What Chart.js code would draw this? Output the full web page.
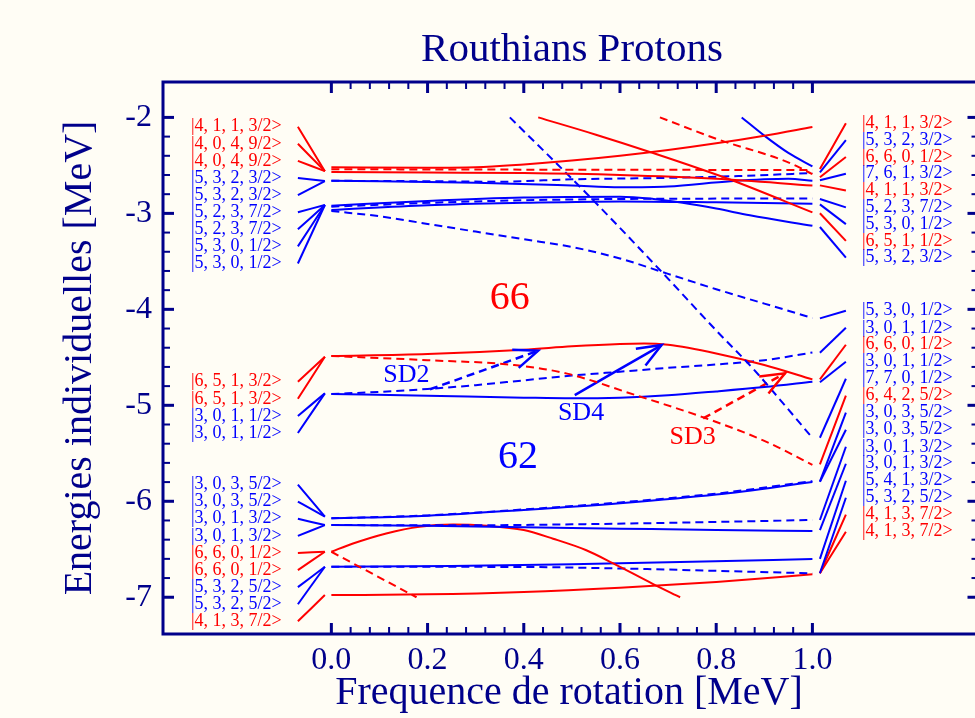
<!DOCTYPE html>
<html><head><meta charset="utf-8">
<script src="https://cdn.jsdelivr.net/npm/chart.js@4.4.1/dist/chart.umd.min.js"></script>
<style>html,body{margin:0;padding:0;background:#fffdf5;overflow:hidden}#wrap{width:975px;height:718px;position:relative}</style>
</head><body><div id="wrap"><canvas id="c" width="975" height="718"></canvas></div>
<script>
// ---------- data ----------
const xTicks = [0, 0.2, 0.4, 0.6, 0.8, 1.0];
const yTicks = [-7, -6, -5, -4, -3, -2];

// Routhian curves [omega, energy]
const redRise      = [[0,-2.52],[0.2,-2.525],[0.3,-2.52],[0.4,-2.49],[0.5,-2.45],[0.6,-2.40],[0.7,-2.34],[0.8,-2.27],[0.9,-2.19],[1.0,-2.10]];
const redFlat      = [[0,-2.57],[0.2,-2.575],[0.4,-2.58],[0.6,-2.60],[0.8,-2.64],[1.0,-2.71]];
const redFlatDash  = [[0,-2.54],[0.5,-2.545],[1.0,-2.548]];
const redTopDash   = [[0.683,-2.0],[0.807,-2.235],[0.946,-2.46],[1.0,-2.59]];
const redSteep     = [[0.43,-2.0],[0.55,-2.18],[0.662,-2.36],[0.83,-2.65],[1.0,-2.99]];
const blueSteep    = [[0.853,-2.0],[0.9,-2.19],[0.95,-2.37],[1.0,-2.51]];
const blueC        = [[0,-2.66],[0.3,-2.68],[0.5,-2.71],[0.6,-2.728],[0.7,-2.72],[0.83,-2.665],[0.95,-2.64],[1.0,-2.66]];
const blueCDash    = [[0,-2.66],[0.2,-2.665],[0.35,-2.67],[0.5,-2.645],[0.7,-2.63],[0.85,-2.61],[1.0,-2.58]];
const blueD1       = [[0,-2.92],[0.2,-2.87],[0.4,-2.835],[0.6,-2.826],[0.67,-2.85],[0.73,-2.89],[0.8,-2.95],[0.87,-3.02],[1.0,-3.13]];
const blueD2       = [[0,-2.965],[0.2,-2.915],[0.4,-2.89],[0.6,-2.875],[0.8,-2.885],[1.0,-2.90]];
const blueDDash    = [[0,-2.93],[0.3,-2.875],[0.6,-2.85],[1.0,-2.845]];
const blueFallDash = [[0,-2.975],[0.1,-3.03],[0.2,-3.11],[0.3,-3.19],[0.4,-3.27],[0.5,-3.35],[0.6,-3.47],[0.7,-3.63],[0.8,-3.79],[0.9,-3.94],[1.0,-4.09]];
const blueSteepDash= [[0.371,-2.0],[0.53,-2.79],[0.683,-3.59],[0.80,-4.22],[0.877,-4.62],[0.946,-5.02],[1.0,-5.34]];
const red66        = [[0,-4.486],[0.2,-4.465],[0.4,-4.42],[0.5,-4.385],[0.6,-4.36],[0.65,-4.355],[0.7,-4.37],[0.8,-4.46],[0.9,-4.58],[1.0,-4.73]];
const red66Dash    = [[0,-4.486],[0.2,-4.53],[0.38,-4.58],[0.49,-4.67],[0.63,-4.89],[0.77,-5.12],[0.9,-5.37],[1.0,-5.62]];
const blue62       = [[0,-4.882],[0.2,-4.90],[0.4,-4.92],[0.5,-4.927],[0.6,-4.92],[0.7,-4.895],[0.8,-4.855],[0.9,-4.81],[1.0,-4.754]];
const blue62Dash   = [[0,-4.882],[0.1,-4.86],[0.2,-4.83],[0.3,-4.79],[0.4,-4.74],[0.5,-4.69],[0.6,-4.65],[0.7,-4.61],[0.8,-4.575],[0.9,-4.53],[1.0,-4.45]];
const blueLowTop   = [[0,-6.178],[0.2,-6.15],[0.4,-6.09],[0.6,-6.02],[0.8,-5.93],[1.0,-5.80]];
const blueLowTopDash=[[0,-6.178],[0.2,-6.147],[0.4,-6.085],[0.6,-6.012],[0.8,-5.92],[1.0,-5.79]];
const blueLow2     = [[0,-6.248],[0.2,-6.255],[0.4,-6.27],[0.6,-6.285],[0.8,-6.30],[1.0,-6.31]];
const blueLow2Dash = [[0,-6.248],[0.3,-6.25],[0.5,-6.24],[0.7,-6.225],[1.0,-6.195]];
const redArc       = [[0,-6.526],[0.045,-6.44],[0.114,-6.335],[0.183,-6.265],[0.253,-6.242],[0.323,-6.255],[0.4,-6.30],[0.461,-6.39],[0.53,-6.51],[0.586,-6.647],[0.668,-6.86],[0.725,-7.0]];
const redArcDash   = [[0,-6.526],[0.177,-7.0]];
const blueLow3     = [[0,-6.682],[0.25,-6.675],[0.5,-6.655],[0.75,-6.63],[1.0,-6.602]];
const blueLow3Dash = [[0,-6.682],[0.4,-6.685],[0.6,-6.70],[0.8,-6.725],[1.0,-6.751]];
const redBottom    = [[0,-6.977],[0.2,-6.97],[0.4,-6.945],[0.6,-6.90],[0.8,-6.84],[1.0,-6.761]];

// Nilsson state labels, left side (omega = 0)
const leftStates = ['|4, 1, 1, 3/2>','|4, 0, 4, 9/2>','|4, 0, 4, 9/2>','|5, 3, 2, 3/2>','|5, 3, 2, 3/2>','|5, 2, 3, 7/2>','|5, 2, 3, 7/2>','|5, 3, 0, 1/2>','|5, 3, 0, 1/2>',
  '|6, 5, 1, 3/2>','|6, 5, 1, 3/2>','|3, 0, 1, 1/2>','|3, 0, 1, 1/2>',
  '|3, 0, 3, 5/2>','|3, 0, 3, 5/2>','|3, 0, 1, 3/2>','|3, 0, 1, 3/2>','|6, 6, 0, 1/2>','|6, 6, 0, 1/2>','|5, 3, 2, 5/2>','|5, 3, 2, 5/2>','|4, 1, 3, 7/2>'];
const leftParity = ['r','r','r','b','b','b','b','b','b','r','r','b','b','b','b','b','b','r','r','b','b','r'];
const leftLabelY = [-2.097,-2.275,-2.453,-2.631,-2.810,-2.988,-3.166,-3.344,-3.522,-4.754,-4.932,-5.111,-5.289,-5.826,-6.004,-6.182,-6.360,-6.538,-6.717,-6.895,-7.073,-7.251];
const leftLevelY = [-2.56,-2.56,-2.56,-2.663,-2.663,-2.913,-2.913,-2.913,-2.913,-4.494,-4.494,-4.875,-4.875,-6.161,-6.161,-6.248,-6.248,-6.526,-6.526,-6.682,-6.682,-6.977];

// right side (omega = 1 MeV)
const rightStates = ['|4, 1, 1, 3/2>','|5, 3, 2, 3/2>','|6, 6, 0, 1/2>','|7, 6, 1, 3/2>','|4, 1, 1, 3/2>','|5, 2, 3, 7/2>','|5, 3, 0, 1/2>','|6, 5, 1, 1/2>','|5, 3, 2, 3/2>',
  '|5, 3, 0, 1/2>','|3, 0, 1, 1/2>','|6, 6, 0, 1/2>','|3, 0, 1, 1/2>','|7, 7, 0, 1/2>','|6, 4, 2, 5/2>','|3, 0, 3, 5/2>','|3, 0, 3, 5/2>','|3, 0, 1, 3/2>','|3, 0, 1, 3/2>','|5, 4, 1, 3/2>','|5, 3, 2, 5/2>','|4, 1, 3, 7/2>','|4, 1, 3, 7/2>'];
const rightParity = ['r','b','r','b','r','b','b','r','b','b','b','r','b','b','r','b','b','b','b','b','b','r','r'];
const rightLabelY = [-2.061,-2.2365,-2.412,-2.587,-2.762,-2.937,-3.112,-3.287,-3.462,-4.014,-4.192,-4.369,-4.546,-4.723,-4.900,-5.077,-5.254,-5.432,-5.609,-5.786,-5.963,-6.140,-6.317];
const rightLevelY = [-2.538,-2.572,-2.624,-2.655,-2.708,-2.850,-2.906,-2.999,-3.142,-4.094,-4.452,-4.729,-4.760,-5.338,-5.615,-5.796,-5.796,-6.195,-6.30,-6.60,-6.75,-6.75,-6.75];

// annotations
const annotTexts = ['66','62','SD2','SD4','SD3'];
const annotX = [0.371, 0.388, 0.156, 0.519, 0.751];
const annotY = [-3.892, -5.539, -4.684, -5.084, -5.334];
const annotParity = ['r','b','b','b','r'];
const arrowSD2 = [[0.205,-4.833],[0.43,-4.431]];
const arrowSD4 = [[0.506,-4.893],[0.6865,-4.372]];
const arrowSD3 = [[0.773,-5.136],[0.943,-4.667]];

// ---------- styling / layout ----------
const RED = '#ff0000', BLUE = '#0000ff', NAVY = '#00008b', BG = '#fffdf5';
const SERIF = "'Liberation Serif','Times New Roman',serif";
const COL = {r: RED, b: BLUE};
const LEFT_FAN = [-0.0696, -0.0135], RIGHT_FAN = [1.0156, 1.0696];
const LEFT_LABEL_X = -0.292, RIGHT_LABEL_X = 1.103;
const DASH = [8, 5];

const pts = a => a.map(p => ({x: p[0], y: p[1]}));
const datasets = [];
function addLine(arr, color, dashed, width) {
  datasets.push({data: pts(arr), borderColor: color, borderWidth: width || 2, borderDash: dashed ? DASH : [],
    pointRadius: 0, fill: false, showLine: true, cubicInterpolationMode: 'monotone', tension: 0.4});
}
[[redRise,RED,0],[redFlat,RED,0],[redFlatDash,RED,1],[redTopDash,RED,1],[redSteep,RED,0],
 [blueSteep,BLUE,0],[blueC,BLUE,0],[blueCDash,BLUE,1],[blueD1,BLUE,0],[blueD2,BLUE,0],[blueDDash,BLUE,1],
 [blueFallDash,BLUE,1],[blueSteepDash,BLUE,1],[red66,RED,0],[red66Dash,RED,1],[blue62,BLUE,0],[blue62Dash,BLUE,1],
 [blueLowTop,BLUE,0],[blueLowTopDash,BLUE,1],[blueLow2,BLUE,0],[blueLow2Dash,BLUE,1],[redArc,RED,0],[redArcDash,RED,1],
 [blueLow3,BLUE,0],[blueLow3Dash,BLUE,1],[redBottom,RED,0]].forEach(s => addLine(s[0], s[1], s[2]));
leftLabelY.forEach((y, i) => addLine([[LEFT_FAN[0], y],[LEFT_FAN[1], leftLevelY[i]]], COL[leftParity[i]], 0));
rightLabelY.forEach((y, i) => addLine([[RIGHT_FAN[0], rightLevelY[i]],[RIGHT_FAN[1], y]], COL[rightParity[i]], 0));
addLine(arrowSD2, BLUE, 1, 2.5);
addLine(arrowSD4, BLUE, 0, 2.5);
addLine(arrowSD3, RED, 1, 2.5);

const decor = {
  id: 'decor',
  beforeDraw(chart) {
    const c = chart.ctx; c.save(); c.fillStyle = BG; c.fillRect(0, 0, chart.width, chart.height); c.restore();
  },
  afterDatasetsDraw(chart) {
    const c = chart.ctx, xs = chart.scales.x, ys = chart.scales.y, a = chart.chartArea;
    const X = v => xs.getPixelForValue(v), Y = v => ys.getPixelForValue(v);
    c.save();
    // state labels
    c.font = '18px ' + SERIF; c.textBaseline = 'middle'; c.textAlign = 'left';
    leftStates.forEach((t, i) => { c.fillStyle = COL[leftParity[i]]; c.fillText(t, X(LEFT_LABEL_X), Y(leftLabelY[i])); });
    rightStates.forEach((t, i) => { c.fillStyle = COL[rightParity[i]]; c.fillText(t, X(RIGHT_LABEL_X), Y(rightLabelY[i])); });
    // annotations
    c.textAlign = 'center';
    annotTexts.forEach((t, i) => {
      c.font = (t.length === 2 ? '40px ' : '26px ') + SERIF;
      c.fillStyle = COL[annotParity[i]];
      c.fillText(t, X(annotX[i]), Y(annotY[i]));
    });
    // arrow heads
    [[arrowSD2, BLUE],[arrowSD4, BLUE],[arrowSD3, RED]].forEach(([ar, col]) => {
      const x0 = X(ar[0][0]), y0 = Y(ar[0][1]), x1 = X(ar[1][0]), y1 = Y(ar[1][1]);
      const ang = Math.atan2(y1 - y0, x1 - x0), L = 26, h = 0.38;
      c.strokeStyle = col; c.lineWidth = 2.5; c.setLineDash([]);
      c.beginPath();
      c.moveTo(x1 - L * Math.cos(ang - h), y1 - L * Math.sin(ang - h));
      c.lineTo(x1, y1);
      c.lineTo(x1 - L * Math.cos(ang + h), y1 - L * Math.sin(ang + h));
      c.stroke();
    });
    // frame (left, top, bottom; right edge lies just outside the picture)
    const fr = a.right + 3.5;
    c.strokeStyle = NAVY; c.lineWidth = 3; c.setLineDash([]);
    c.beginPath(); c.moveTo(fr, a.top); c.lineTo(a.left, a.top); c.lineTo(a.left, a.bottom); c.lineTo(fr, a.bottom); c.stroke();
    // ticks
    c.fillStyle = NAVY;
    for (let k = 0; k <= 25; k++) {
      const v = k * 0.04, major = k % 5 === 0, len = major ? 11 : 7, w = major ? 3 : 2, px = X(v);
      c.fillRect(px - w / 2, a.bottom - len, w, len);
      c.fillRect(px - w / 2, a.top, w, len);
    }
    for (let k = 0; k <= 25; k++) {
      const v = -7 + k * 0.2, major = k % 5 === 0, len = major ? 11 : 7, w = major ? 3 : 2, py = Y(v);
      c.fillRect(a.left, py - w / 2, len, w);
      c.fillRect(fr - len, py - w / 2, len, w);
    }
    // title
    c.font = '41px ' + SERIF; c.textAlign = 'center'; c.textBaseline = 'alphabetic'; c.fillStyle = NAVY;
    c.fillText('Routhians Protons', 572, 61);
    c.restore();
  }
};

new Chart(document.getElementById('c'), {
  type: 'line',
  data: {datasets},
  options: {
    responsive: false, animation: false, devicePixelRatio: 1,
    layout: {padding: {top: 82, left: 0, right: 0, bottom: 0}},
    plugins: {legend: {display: false}, tooltip: {enabled: false}, title: {display: false}},
    scales: {
      x: {type: 'linear', min: -0.35, max: 1.338,
        afterBuildTicks: s => { s.ticks = xTicks.map(v => ({value: v})); },
        afterFit: s => { s.height = 84; },
        grid: {display: false, drawTicks: false}, border: {display: false},
        ticks: {callback: v => Number(v).toFixed(1), font: {family: SERIF, size: 32}, color: NAVY, padding: 7, maxRotation: 0, autoSkip: false},
        title: {display: true, text: 'Frequence de rotation [MeV]', font: {family: SERIF, size: 40}, color: NAVY, padding: {top: 0, bottom: 1}}},
      y: {type: 'linear', min: -7.383, max: -1.631,
        afterBuildTicks: s => { s.ticks = yTicks.map(v => ({value: v})); },
        afterFit: s => { s.width = 163; },
        grid: {display: false, drawTicks: false}, border: {display: false},
        ticks: {callback: v => String(v), font: {family: SERIF, size: 32}, color: NAVY, padding: 11, autoSkip: false},
        title: {display: true, text: 'Energies individuelles [MeV]', font: {family: SERIF, size: 40}, color: NAVY, padding: {top: 56, bottom: 0}}}
    }
  },
  plugins: [decor]
});
</script></body></html>
